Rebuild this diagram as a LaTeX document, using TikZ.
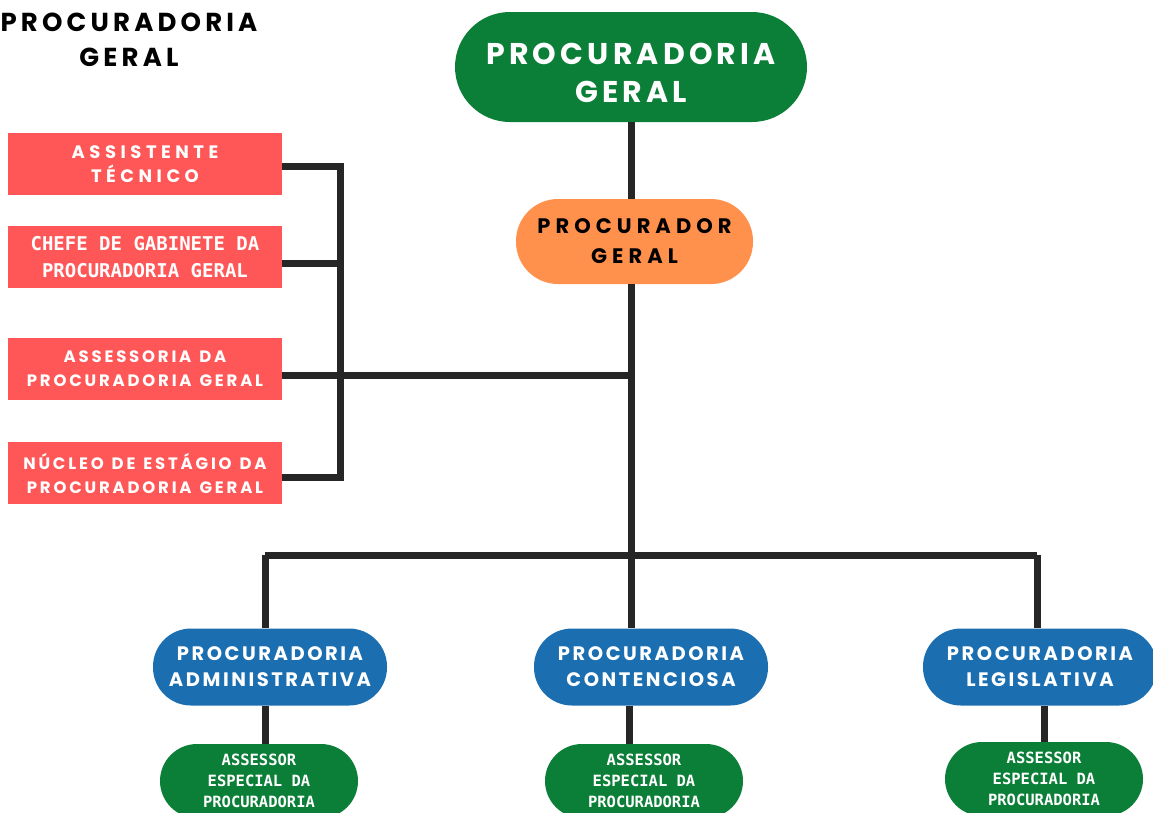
\documentclass[tikz,border=0pt]{standalone}
\usepackage{fontspec}
\newfontfamily\hd{Poppins}
\newfontfamily\mono{DejaVu Sans Mono}
\newcommand\hdf[3]{\hd\bfseries\fontsize{#1}{#2}\selectfont\addfontfeatures{LetterSpace=#3}}
\newcommand\monof[2]{\mono\bfseries\fontsize{#1}{#2}\selectfont}
\newcommand\wsp{\hspace{8pt}}
\definecolor{pgreen}{HTML}{0B7F37}
\definecolor{porange}{HTML}{FF914D}
\definecolor{pred}{HTML}{FF5757}
\definecolor{pblue}{HTML}{1B6FB1}
\definecolor{pline}{HTML}{262626}
\tikzset{
  box/.style={inner sep=0pt, align=center},
  redbox/.style={box, fill=pred, text=white, minimum width=274pt, minimum height=62pt},
  bluepill/.style={box, fill=pblue, text=white, minimum width=234pt, minimum height=77pt, rounded corners=38pt, font={\hdf{19.5}{26}{13}}},
  greenpill/.style={box, fill=pgreen, text=white, minimum width=198pt, minimum height=74pt, rounded corners=37pt, font={\monof{15.5}{21}}},
  conn/.style={draw=pline, line width=7pt, line join=miter}
}
\begin{document}
\begin{tikzpicture}[x=1pt,y=-1pt]
\useasboundingbox (0,0) rectangle (1153,812);
% title
\node[box, text=black, font={\hdf{26}{35}{16}}] (title) at (129,40) {PROCURADORIA\\GERAL};
% top
\node[box, fill=pgreen, text=white, minimum width=352pt, minimum height=110pt, rounded corners=55pt, font={\hdf{30}{38}{14}}] (pg) at (631,67)
  {\raisebox{-9pt}[\height][\depth]{\begin{tabular}{@{}c@{}}PROCURADORIA\\GERAL\end{tabular}}};
\node[box, fill=porange, text=black, minimum width=237pt, minimum height=85pt, rounded corners=42pt, font={\hdf{21}{30}{24}}] (pgr) at (634.5,241.5) {PROCURADOR\\GERAL};
% left boxes
\node[redbox, font={\hdf{18}{24}{25}}] (r1) at (145,164) {ASSISTENTE\\TÉCNICO};
\node[redbox, font={\monof{19}{27}}] (r2) at (145,257) {CHEFE DE GABINETE DA\\PROCURADORIA GERAL};
\node[redbox, font={\hdf{16.5}{24}{17}}] (r3) at (145,369) {ASSESSORIA\wsp DA\\PROCURADORIA\wsp GERAL};
\node[redbox, font={\hdf{16.5}{24}{17}}] (r4) at (145,473) {NÚCLEO\wsp DE\wsp ESTÁGIO\wsp DA\\PROCURADORIA\wsp GERAL};
% blue
\node[bluepill] (pa) at (270,667) {PROCURADORIA\\ADMINISTRATIVA};
\node[bluepill] (pc) at (651,667) {PROCURADORIA\\CONTENCIOSA};
\node[bluepill] (pl) at (1040,667) {PROCURADORIA\\LEGISLATIVA};
% lower green
\node[greenpill] (aa) at (259,781) {ASSESSOR\\ESPECIAL DA\\PROCURADORIA};
\node[greenpill] (ac) at (644,781) {ASSESSOR\\ESPECIAL DA\\PROCURADORIA};
\node[greenpill] (al) at (1044,779) {ASSESSOR\\ESPECIAL DA\\PROCURADORIA};
% coordinates
\coordinate (L1) at (340,166);
\coordinate (L2) at (340,263);
\coordinate (L3) at (340,375);
\coordinate (L4) at (340,477);
\coordinate (J) at (631,375);
\coordinate (Bl) at (265,555);
\coordinate (Bm) at (631,555);
\coordinate (Br) at (1037,555);
\coordinate (Xa) at (265,0);
\coordinate (Xc) at (629,0);
\coordinate (Xl) at (1044,0);
% connectors
\draw[conn] (pg.south) -- (pg.south |- pgr.north);
\draw[conn] (pgr.south -| Bm) -- (Bm);
\draw[conn] (r1.east |- L1) -- (L1) -- (L4) -- (r4.east |- L4);
\draw[conn] (r2.east |- L2) -- (L2);
\draw[conn] (r3.east |- L3) -- (J);
\draw[conn] (Bl) -- (Br);
\draw[conn] (Bl) -- (Bl |- pa.north);
\draw[conn] (Bm) -- (Bm |- pc.north);
\draw[conn] (Br) -- (Br |- pl.north);
\draw[conn] (Xa |- pa.south) -- (Xa |- aa.north);
\draw[conn] (Xc |- pc.south) -- (Xc |- ac.north);
\draw[conn] (Xl |- pl.south) -- (Xl |- al.north);
\end{tikzpicture}
\end{document}
